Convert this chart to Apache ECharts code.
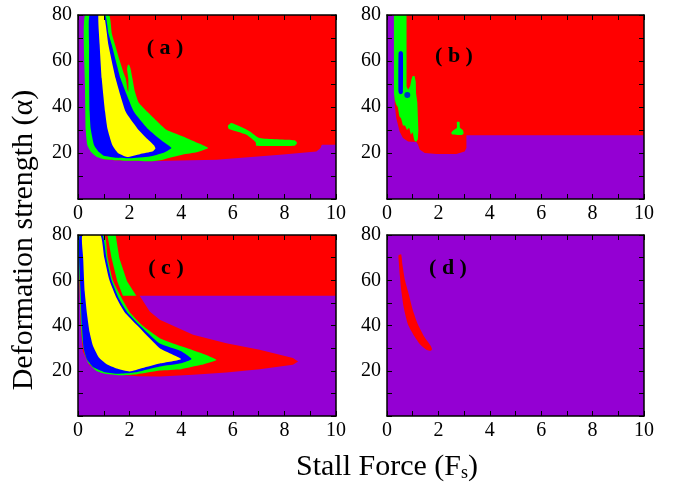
<!DOCTYPE html>
<html>
<head>
<meta charset="utf-8">
<script src="https://cdn.jsdelivr.net/npm/echarts@6/dist/echarts.min.js"></script>
<style>
  html, body { margin: 0; padding: 0; background: #ffffff; }
  #chart { width: 673px; height: 485px; }
</style>
</head>
<body>
<div id="chart"></div>
<script>
// Tick labels shared by all four panels
const xTicks = [0, 2, 4, 6, 8, 10];
const yTicks = [20, 40, 60, 80];
const panelNames = ['( a )', '( b )', '( c )', '( d )'];

// Phase regions, each a closed boundary in (stall force, deformation strength)
// Panel (a)
const aRed = [[1.0,80],[10,80],[10,23.6],[9.45,23.6],[9.4,22.2],[9.24,20.7],[7.95,19.3],[5.36,17.1],[3.5,16.6],[2.78,16.4],[2.0,16.6],[1.4,16.9],[1.0,17.3]];
const aGreen = [[0.27,80],[1.2,80],[1.31,72],[1.44,67],[1.62,60],[1.78,54.5],[1.85,52.4],[1.92,47.5],[1.95,46.5],[1.95,52.4],[1.9,56.5],[1.93,58.2],[1.98,58.3],[2.03,57],[2.11,52.4],[2.2,47],[2.35,42],[2.69,37.9],[3.0,34.5],[3.43,30.1],[4.07,27.2],[4.72,24.0],[5.04,22.2],[4.6,20.3],[4.07,19.3],[3.29,17.1],[2.78,16.4],[2.0,16.6],[1.4,16.9],[1.0,17.3],[0.7,18.5],[0.5,20.5],[0.36,23.5],[0.3,30],[0.27,50]];
const aGreenPatch = [[5.81,31.8],[5.95,33.0],[6.66,29.4],[7.04,26.5],[8.4,25.5],[8.49,24.3],[8.4,23.2],[6.91,23.2],[6.89,24.6],[6.53,27.9],[5.85,30.4]];
const aBlue = [[0.45,80],[1.05,80],[1.18,72],[1.31,67],[1.65,52.4],[2.17,37.9],[2.69,30.7],[3.29,25.0],[3.62,22.2],[3.29,20.0],[2.78,18.5],[2.0,17.7],[1.5,17.9],[1.0,18.8],[0.8,20.5],[0.62,23.5],[0.49,30.7],[0.45,38],[0.43,52],[0.43,67]];
const aYellow = [[0.79,80],[1.01,80],[1.18,67],[1.46,52.4],[1.85,37.9],[2.3,30.7],[2.7,26],[2.95,23.3],[3.0,22],[2.88,20.6],[2.4,19.5],[1.9,18.3],[1.55,20],[1.33,23.5],[1.14,30.7],[1.05,37.9],[0.92,52.4],[0.84,67]];

// Panel (b)
const bRed = [[0.3,80],[10,80],[10,27.7],[3.09,27.7],[3.09,22.2],[3.02,20.7],[2.7,19.6],[1.92,19.6],[1.47,20.0],[1.27,21.5],[1.21,23.6],[1.14,24.8],[0.82,25.0],[0.62,26.5],[0.49,29.4],[0.36,35.2],[0.3,41]];
const bGreen = [[0.27,80],[0.76,80],[0.76,49],[0.82,47.5],[0.9,49],[0.95,52],[1.0,53.5],[1.07,53.5],[1.12,51],[1.13,46],[1.18,42],[1.2,36],[1.22,30],[1.2,26],[1.13,24.8],[1.06,25.5],[1.0,29],[0.93,28],[0.86,31],[0.78,30],[0.7,32],[0.62,32],[0.55,35],[0.48,36],[0.42,40],[0.36,41],[0.3,43],[0.27,46]];
const bGreenPatch = [[2.72,33.5],[2.82,33.5],[2.84,31],[2.95,30],[2.98,28.5],[2.9,27.8],[2.55,28],[2.5,28.8],[2.6,30],[2.72,31]];
const bBlue = [[0.45,63.5],[0.5,64.2],[0.57,64.2],[0.62,63.5],[0.62,46.5],[0.57,45.6],[0.5,45.6],[0.45,46.5]];
const bBlueDot = [[0.79,45.2]];

// Panel (c)
const cRed = [[0.03,80],[10,80],[10,53.1],[2.39,53.1],[2.78,46.2],[3.17,42.5],[4.46,35.9],[5.75,32.2],[7.04,29.3],[8.33,25.6],[8.53,24.1],[8.33,22.6],[7.04,20.7],[5.75,19.2],[4.46,18.2],[3.17,17.5],[2.3,17.6],[1.6,18.2],[1.0,19.2],[0.45,22.3],[0.19,28.5],[0.1,40],[0.05,60]];
const cGreenStrip = [[1.14,80],[1.46,80],[1.6,69.8],[1.9,59.6],[2.26,53.1],[1.74,53.1],[1.52,59.6],[1.3,69.8]];
const cGreen = [[0.04,80],[1.02,80],[1.15,70],[1.35,60],[1.65,53],[2.0,46],[2.5,40],[3.17,34.4],[4.0,30.8],[4.77,27.8],[5.36,24.8],[4.77,22.6],[4.0,20.7],[3.17,20.1],[2.3,18.5],[1.6,18.0],[1.0,18.8],[0.7,20],[0.4,23.5],[0.25,28],[0.15,35],[0.1,45],[0.06,60]];
const cBlue = [[0.07,80],[0.94,80],[1.1,70],[1.3,60],[1.58,52],[1.9,46],[2.4,40],[3.17,32],[4.0,28.6],[4.4,25.2],[4.0,23.3],[3.17,21.9],[2.3,19.5],[1.9,18.9],[1.5,18.7],[1.0,19.5],[0.6,21.5],[0.35,25],[0.22,30],[0.15,40],[0.1,55]];
const cYellow = [[0.17,80],[0.87,80],[1.02,70],[1.22,60],[1.5,52],[1.8,46],[2.3,40],[3.17,30],[4.0,25.2],[3.17,23.2],[2.5,21.2],[2.0,19.7],[1.5,21],[1.1,23],[0.8,26],[0.58,31],[0.45,37],[0.35,45],[0.26,55],[0.2,70]];

// Panel (d)
const dRed = [[0.45,71],[0.55,71.5],[0.6,67],[0.7,60],[0.82,55],[1.0,47],[1.21,40.3],[1.45,35],[1.7,31],[1.75,29.5],[1.7,28.8],[1.55,29.2],[1.3,31.5],[1.05,35.5],[0.82,40.3],[0.65,48],[0.56,55],[0.5,62],[0.46,68]];

const C = { violet: '#9400d3', red: '#ff0000', green: '#00ff00', blue: '#0000ff', yellow: '#ffff00' };
const FONT = '"Liberation Serif", "Times New Roman", serif';

const grids = [
  { left: 78, top: 15, width: 258, height: 184 },
  { left: 387, top: 15, width: 257, height: 184 },
  { left: 78, top: 235, width: 258, height: 181 },
  { left: 387, top: 235, width: 257, height: 181 }
].map(g => Object.assign({ show: true, backgroundColor: C.violet, borderWidth: 0 }, g));

const tickCommon = {
  axisTick: { show: true, inside: true, length: 5, lineStyle: { color: '#000', width: 1 } },
  minorTick: { show: true, splitNumber: 2, length: 5, lineStyle: { color: '#000', width: 1 } },
  splitLine: { show: false },
  minorSplitLine: { show: false },
  axisLine: { show: true, onZero: false, lineStyle: { color: '#000', width: 1.5 } },
  z: 10
};

const xAxes = [], yAxes = [];
grids.forEach((g, i) => {
  xAxes.push(Object.assign({
    gridIndex: i, type: 'value', min: 0, max: 10, interval: 2, position: 'bottom',
    axisLabel: { show: true, color: '#000', fontFamily: FONT, fontSize: 20, margin: 5,
      formatter: v => xTicks.includes(v) ? String(v) : '' }
  }, tickCommon));
  xAxes.push(Object.assign({
    gridIndex: i, type: 'value', min: 0, max: 10, interval: 2, position: 'top',
    axisLabel: { show: false }
  }, tickCommon));
  yAxes.push(Object.assign({
    gridIndex: i, type: 'value', min: 0, max: 80, interval: 20, position: 'left',
    axisLabel: { show: true, color: '#000', fontFamily: FONT, fontSize: 20, margin: 6,
      formatter: v => yTicks.includes(v) ? String(v) : '' }
  }, tickCommon));
  yAxes.push(Object.assign({
    gridIndex: i, type: 'value', min: 0, max: 80, interval: 20, position: 'right',
    axisLabel: { show: false }
  }, tickCommon));
});

// One filled polygon per phase region, projected through the panel's axes
function region(panel, pts, color, z, smooth) {
  return {
    type: 'custom', coordinateSystem: 'cartesian2d',
    xAxisIndex: panel * 2, yAxisIndex: panel * 2,
    data: pts, encode: { x: 0, y: 1 },
    silent: true, animation: false, clip: true, z: z,
    renderItem: (params, api) => {
      if (params.dataIndex !== 0) return null;
      return {
        type: 'polygon',
        shape: { points: pts.map(p => api.coord(p)), smooth: smooth || 0 },
        style: { fill: color }
      };
    }
  };
}

const series = [
  region(0, aRed, C.red, 2), region(0, aGreen, C.green, 3, 0.15), region(0, aGreenPatch, C.green, 3, 0.2),
  region(0, aBlue, C.blue, 4, 0.15), region(0, aYellow, C.yellow, 5, 0.15),
  region(1, bRed, C.red, 2), region(1, bGreen, C.green, 3), region(1, bGreenPatch, C.green, 3, 0.2),
  region(1, bBlue, C.blue, 4, 0.2),
  { type: 'scatter', xAxisIndex: 2, yAxisIndex: 2, data: bBlueDot, symbol: 'circle', symbolSize: 6,
    itemStyle: { color: C.blue }, silent: true, animation: false, z: 4 },
  region(2, cRed, C.red, 2), region(2, cGreenStrip, C.green, 3), region(2, cGreen, C.green, 3, 0.15),
  region(2, cBlue, C.blue, 4, 0.15), region(2, cYellow, C.yellow, 5, 0.15),
  region(3, dRed, C.red, 2, 0.2)
];

const panelLabelPos = [[165, 48], [454, 56], [166, 268], [448, 268]];
const graphic = panelNames.map((t, i) => ({
  type: 'text', x: panelLabelPos[i][0], y: panelLabelPos[i][1], z: 20,
  style: { text: t, fill: '#000', font: 'bold 22px ' + FONT, textAlign: 'center', textVerticalAlign: 'middle' }
}));
graphic.push({
  type: 'text', x: 24, y: 240, rotation: Math.PI / 2, z: 20,
  style: { text: 'Deformation strength (α)', fill: '#000', font: '30px ' + FONT, textAlign: 'center', textVerticalAlign: 'middle' }
});
graphic.push({
  type: 'text', x: 296, y: 467, z: 20,
  style: {
    text: 'Stall Force (F{s|s})', fill: '#000', font: '30px ' + FONT, textAlign: 'left', textVerticalAlign: 'middle',
    rich: { s: { fontFamily: FONT, fontSize: 18, verticalAlign: 'bottom', padding: [12, 0, 0, 0], fill: '#000' } }
  }
});

const chart = echarts.init(document.getElementById('chart'), null, { renderer: 'canvas' });
chart.setOption({
  animation: false,
  backgroundColor: '#ffffff',
  grid: grids,
  xAxis: xAxes,
  yAxis: yAxes,
  series: series,
  graphic: graphic
});
</script>
</body>
</html>
